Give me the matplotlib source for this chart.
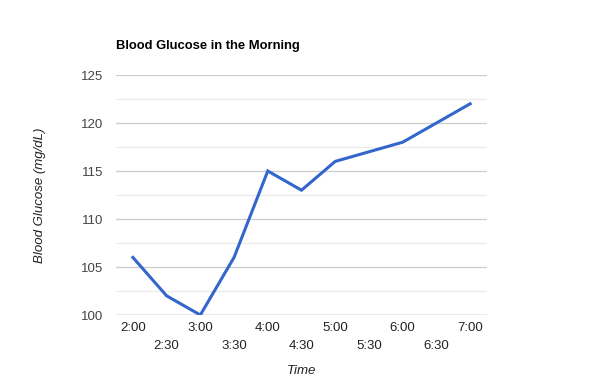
import matplotlib
matplotlib.use("Agg")
import matplotlib.pyplot as plt

# --- data ---
times = ["2:00", "2:30", "3:00", "3:30", "4:00", "4:30",
         "5:00", "5:30", "6:00", "6:30", "7:00"]
glucose = [106, 102, 100, 106, 115, 113, 116, 117, 118, 120, 122]
y_ticks = [100, 105, 110, 115, 120, 125]
y_minor = [102.5, 107.5, 112.5, 117.5, 122.5]

plt.rcParams['font.family'] = ['Liberation Sans', 'DejaVu Sans']

fig = plt.figure(figsize=(6, 3.9), dpi=100)
ax = fig.add_axes([116 / 600, 1 - 315 / 390, (487 - 116) / 600, 240 / 390])

x = list(range(len(times)))
ax.plot(x, glucose, color="#3366cc", lw=2.2, solid_joinstyle="miter", zorder=3)

ax.set_xlim(-0.5, len(times) - 0.5)
ax.set_ylim(100, 125)

# gridlines
for v in y_minor:
    ax.axhline(v, color="#ebebeb", lw=0.9, zorder=1)
for v in y_ticks:
    ax.axhline(v, color="#cccccc", lw=0.9, zorder=1)
ax.axhline(100, color="#b0b0b0", lw=1.0, zorder=2)

ax.set_yticks(y_ticks)
ax.set_yticklabels([str(v) for v in y_ticks], color="#444444", fontsize=9.5)
ax.set_xticks(x)
ax.set_xticklabels(times, color="#222222", fontsize=9.5)
ax.tick_params(axis="both", length=0)
ax.tick_params(axis="y", pad=9)
for i, t in enumerate(ax.xaxis.get_major_ticks()):
    t.set_pad(5 if i % 2 == 0 else 18)

for s in ax.spines.values():
    s.set_visible(False)

fig.text(116 / 600, 1 - 46 / 390, "Blood Glucose in the Morning",
         fontsize=9.4, fontweight="bold", va="center", ha="left")
fig.text(40 / 600, 1 - 195 / 390, "Blood Glucose (mg/dL)", rotation=90,
         fontsize=9.5, style="italic", color="#222222", va="center", ha="center")
fig.text(301 / 600, 1 - 371 / 390, "Time", fontsize=9.5, style="italic",
         color="#222222", va="center", ha="center")

fig.savefig("out.png", dpi=100)
